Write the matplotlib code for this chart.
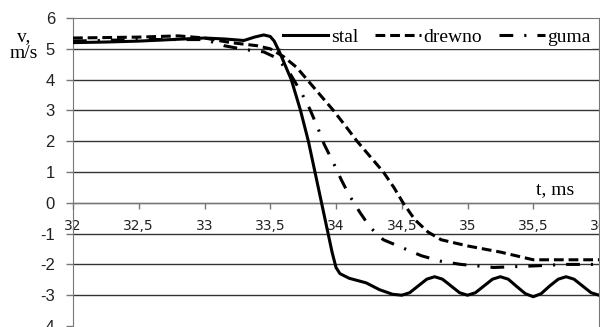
import matplotlib
matplotlib.use("Agg")
from matplotlib import pyplot as plt

# data (t in ms, v in m/s)
t_stal = [32.0, 32.25, 32.5, 32.75, 33.0, 33.15, 33.3, 33.38, 33.45, 33.5, 33.53, 33.57,
          33.62, 33.66, 33.73, 33.79, 33.84, 33.89, 33.94, 33.97, 34.0, 34.03, 34.1, 34.23,
          34.33, 34.43, 34.5, 34.56, 34.625, 34.69, 34.75, 34.81, 34.875, 34.94, 35.0,
          35.06, 35.125, 35.19, 35.25, 35.31, 35.375, 35.44, 35.5, 35.56, 35.625, 35.69,
          35.75, 35.81, 35.875, 35.94, 36.0]
v_stal = [5.2, 5.22, 5.25, 5.3, 5.35, 5.32, 5.27, 5.38, 5.45, 5.4, 5.25, 4.9,
          4.4, 4.0, 3.0, 2.0, 1.0, 0.0, -1.0, -1.6, -2.1, -2.3, -2.45, -2.6,
          -2.82, -2.97, -3.0, -2.92, -2.7, -2.48, -2.4, -2.48, -2.7, -2.92, -3.0,
          -2.92, -2.7, -2.48, -2.4, -2.48, -2.72, -2.95, -3.05, -2.95, -2.7, -2.48,
          -2.4, -2.48, -2.7, -2.92, -3.0]

t_drewno = [32.0, 32.5, 32.8, 33.0, 33.2, 33.4, 33.5, 33.6, 33.7, 33.75, 33.86, 33.98,
            34.08, 34.16, 34.26, 34.36, 34.44, 34.51, 34.6, 34.7, 34.8, 35.0, 35.25,
            35.5, 35.75, 36.0]
v_drewno = [5.35, 5.38, 5.42, 5.35, 5.2, 5.1, 5.0, 4.75, 4.4, 4.15, 3.6, 3.0,
            2.45, 2.0, 1.5, 1.0, 0.5, 0.0, -0.55, -0.95, -1.2, -1.4, -1.6,
            -1.85, -1.85, -1.85]

t_guma = [32.0, 32.5, 33.0, 33.15, 33.3, 33.45, 33.55, 33.65, 33.74, 33.8, 33.86, 33.91,
          33.98, 34.04, 34.1, 34.18, 34.26, 34.36, 34.5, 34.65, 34.8, 34.95, 35.2, 35.5,
          35.75, 36.0]
v_guma = [5.25, 5.3, 5.3, 5.1, 4.98, 4.9, 4.7, 4.2, 3.55, 3.05, 2.45, 1.9,
          1.3, 0.75, 0.25, -0.3, -0.8, -1.2, -1.45, -1.72, -1.9, -2.0, -2.1, -2.05,
          -2.0, -2.0]

yticks = [-4, -3, -2, -1, 0, 1, 2, 3, 4, 5, 6]
xticks = [32, 32.5, 33, 33.5, 34, 34.5, 35, 35.5, 36]
xlabels = ["32", "32,5", "33", "33,5", "34", "34,5", "35", "35,5", "36"]

serif = "Liberation Serif"
sans = "Liberation Sans"

fig = plt.figure(figsize=(6, 3.27), dpi=100)
ax = fig.add_axes([73/600, 1/327, 526/600, 308/327])

lw = 2.2
ax.plot(t_stal, v_stal, color="black", lw=lw, label="stal", zorder=3)
ax.plot(t_drewno, v_drewno, color="black", lw=lw, dashes=(3.2, 1.6), label="drewno", zorder=3)
ax.plot(t_guma, v_guma, color="black", lw=lw, dashes=(4.5, 3.6, 0.7, 3.6), label="guma", zorder=3)

ax.set_xlim(32, 36)
ax.set_ylim(-4, 6)
ax.set_yticks(yticks)
ax.set_yticklabels([str(v) for v in yticks], fontfamily=sans, fontsize=12)
ax.set_xticks(xticks)
ax.set_xticklabels(xlabels, fontfamily=sans, fontsize=12)

for v in yticks[1:-1]:
    ax.axhline(v, color="#333333", lw=1, zorder=0)

ax.spines["bottom"].set_position(("data", 0))
for side in ["bottom", "left", "top", "right"]:
    ax.spines[side].set_color("#777777")
ax.tick_params(axis="y", length=5, width=1, color="#777777", pad=8, labelcolor="#222222")
ax.tick_params(axis="x", length=4, width=1, color="#777777", pad=8, labelcolor="#222222")

ax.text(35.67, 0.42, "t, ms", fontfamily=serif, fontsize=14, ha="center", va="center")
fig.text(24/600, 1 - 45/327, "v,\nm/s", fontfamily=serif, fontsize=14,
         ha="center", va="center", linespacing=1.05)

leg = ax.legend(loc="upper right", bbox_to_anchor=(0.99, 0.975), ncol=3, frameon=True,
                prop={"family": serif, "size": 14}, handlelength=2.35, handletextpad=0.15,
                columnspacing=0.85, borderpad=0.15, borderaxespad=0.0)
leg.get_frame().set_facecolor("white")
leg.get_frame().set_edgecolor("none")
leg.get_frame().set_alpha(1)
leg.set_zorder(2)

fig.savefig("out.png", dpi=100)
